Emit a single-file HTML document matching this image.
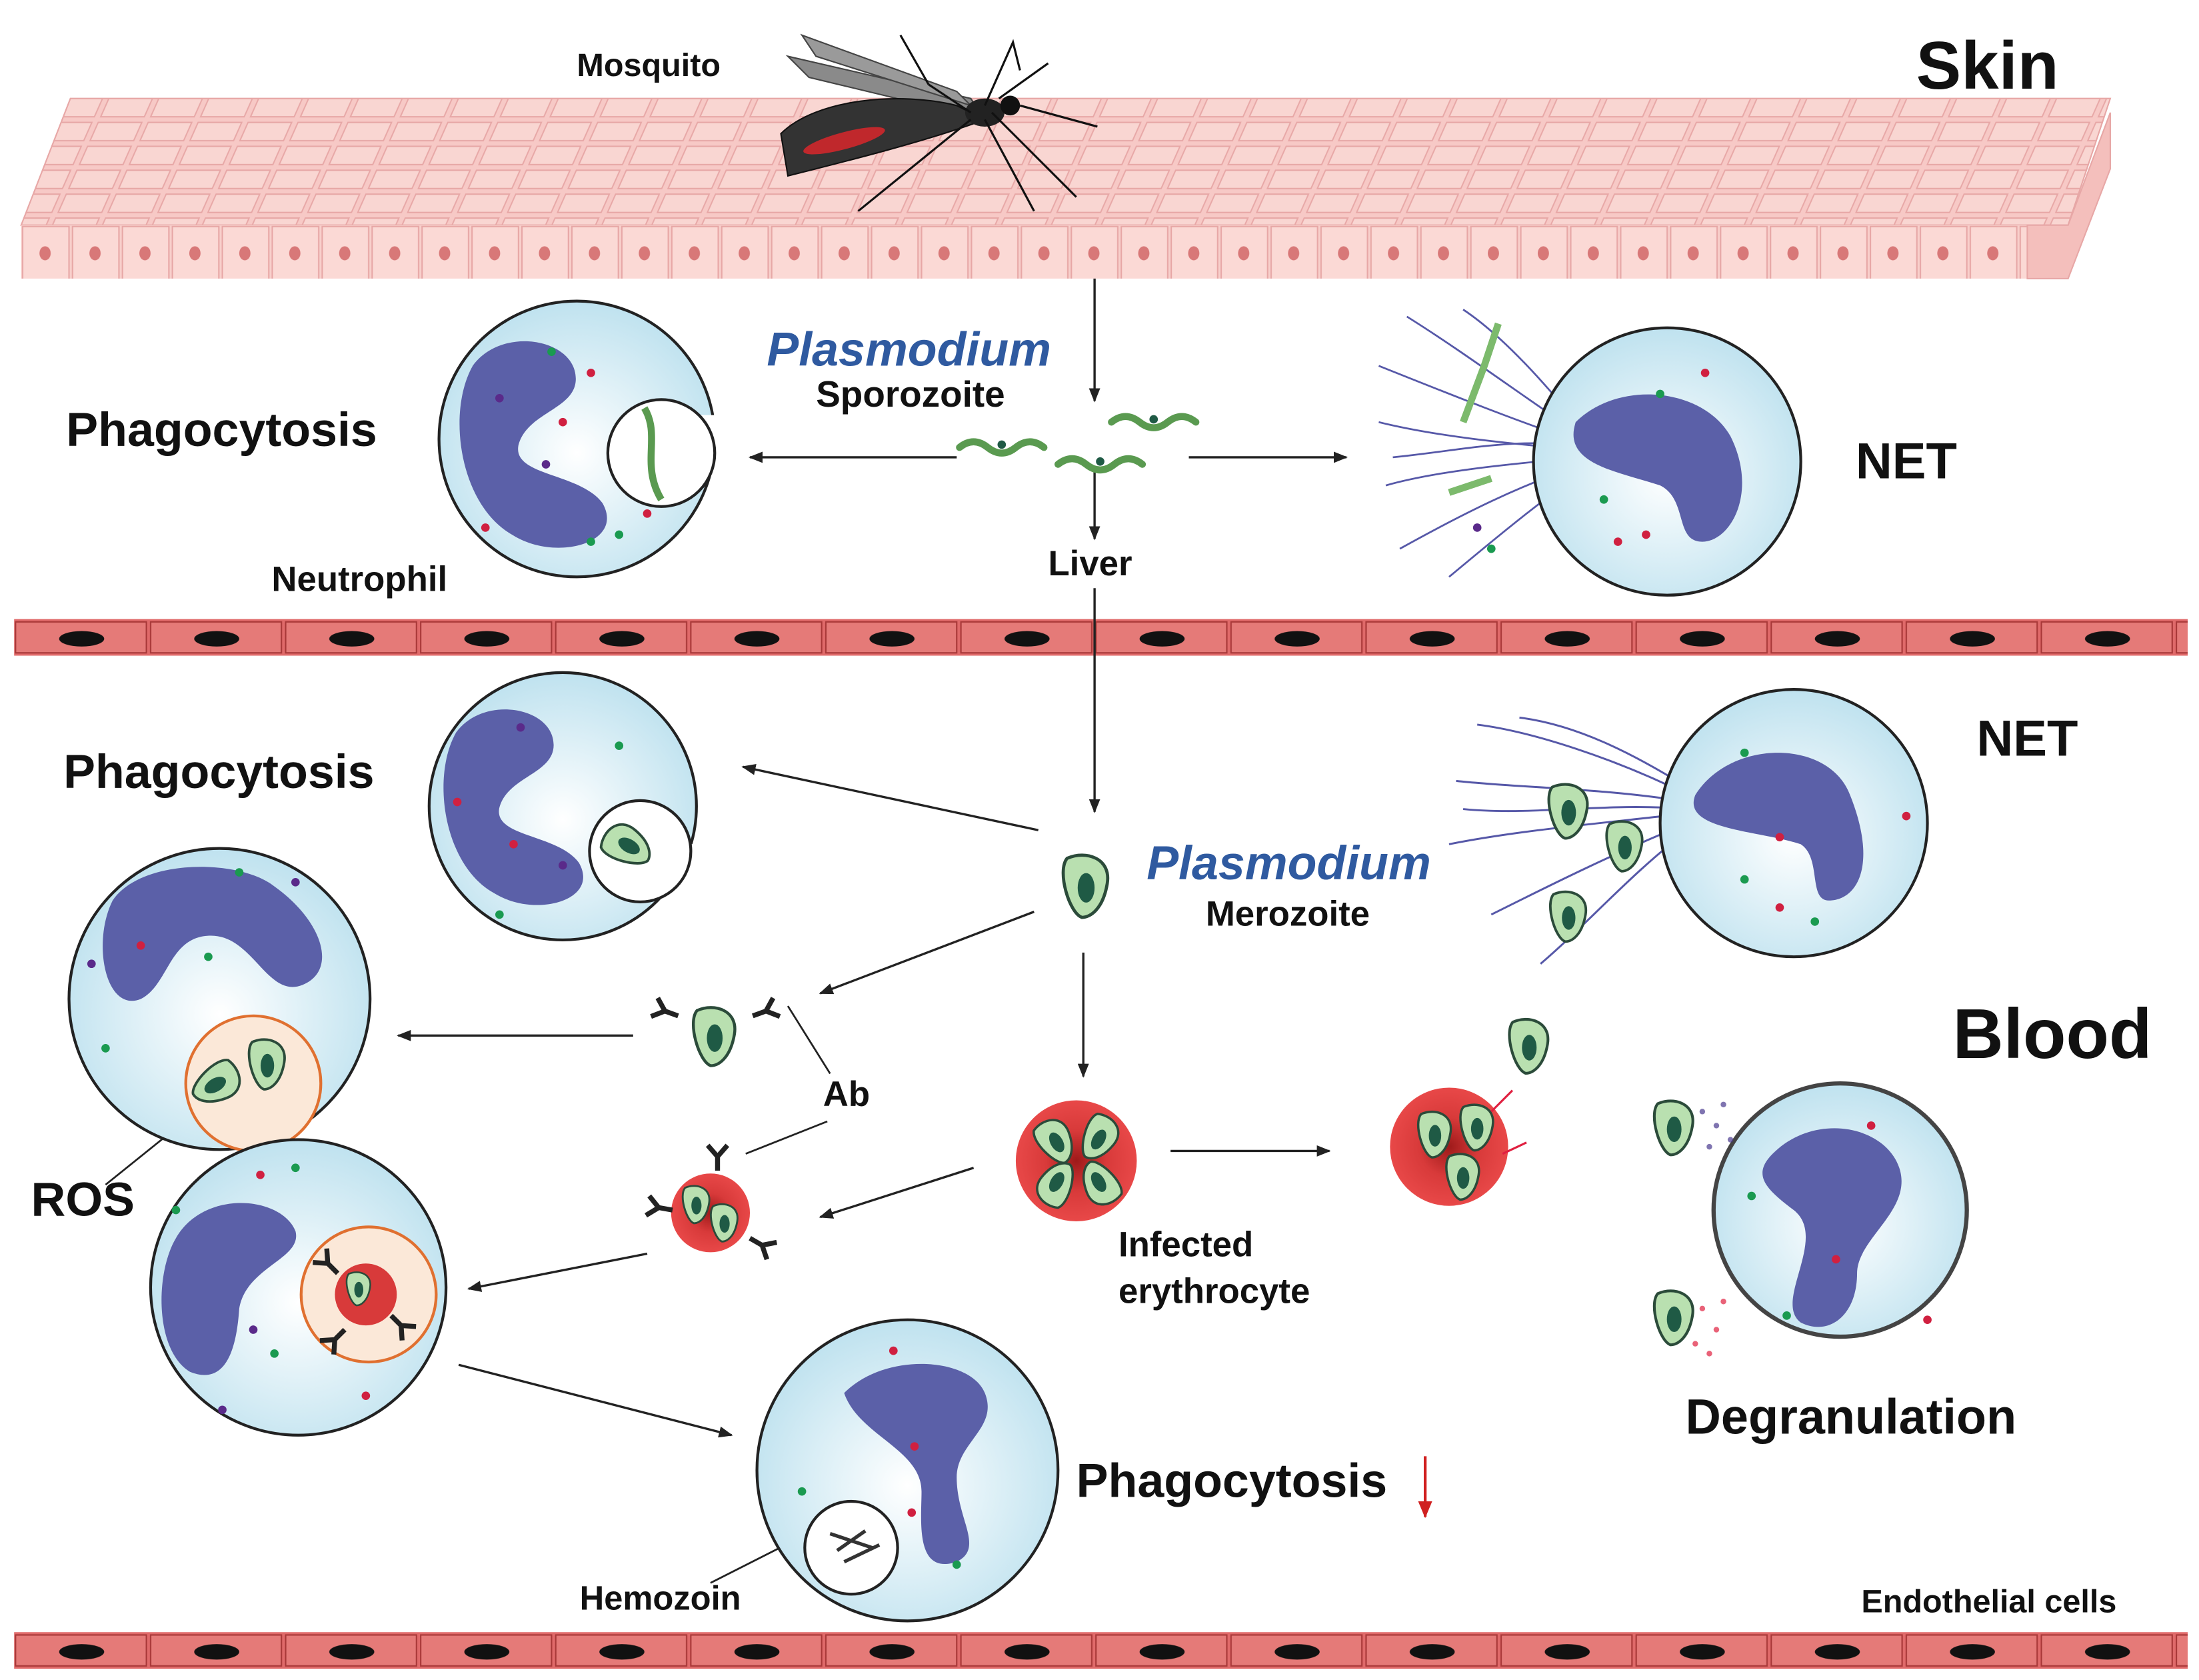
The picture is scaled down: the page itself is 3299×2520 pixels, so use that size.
<!DOCTYPE html>
<html><head><meta charset="utf-8"><style>
html,body{margin:0;padding:0;background:#fff}
svg{display:block}
text{font-family:"Liberation Sans",sans-serif;font-weight:bold;fill:#111}
</style></head><body>
<svg width="3299" height="2520" viewBox="0 0 1563 1194" xmlns="http://www.w3.org/2000/svg">
<defs>
<radialGradient id="cg" cx="0.5" cy="0.55" r="0.55"><stop offset="0" stop-color="#ffffff"/><stop offset="1" stop-color="#bfe2ef"/></radialGradient>
<radialGradient id="rg" cx="0.5" cy="0.5" r="0.5"><stop offset="0" stop-color="#9e1a1a"/><stop offset="0.5" stop-color="#d83a3a"/><stop offset="1" stop-color="#e84848"/></radialGradient>
<marker id="ar" markerWidth="10" markerHeight="8" refX="9" refY="4" orient="auto" markerUnits="userSpaceOnUse"><path d="M0,0 L10,4 L0,8 Z" fill="#222"/></marker>
<marker id="arr" markerWidth="12" markerHeight="10" refX="11" refY="5" orient="auto" markerUnits="userSpaceOnUse"><path d="M0,0 L12,5 L0,10 Z" fill="#d02020"/></marker>
<pattern id="skin" width="35.5" height="17" patternUnits="userSpaceOnUse" patternTransform="skewX(-24)"><rect width="35.5" height="17" fill="#f7c9c6"/><rect x="2" y="2" width="31" height="13" fill="#f9d6d2" stroke="#e7a7a6" stroke-width="1"/></pattern>
<pattern id="skinf" x="15" y="160" width="35.5" height="40" patternUnits="userSpaceOnUse"><rect width="35.5" height="40" fill="#f8cfcb"/><rect x="1" y="1" width="33" height="38" fill="#fbd9d5" stroke="#e7a7a6"/><ellipse cx="17" cy="20" rx="4" ry="5" fill="#d87878"/></pattern>
<pattern id="endo" x="10" y="440" width="96" height="26" patternUnits="userSpaceOnUse"><rect width="96" height="26" fill="#e06a6a"/><rect x="1" y="2" width="93" height="22" fill="#e57a78" stroke="#a83838" stroke-width="1"/><ellipse cx="48" cy="14" rx="16" ry="5.5" fill="#111"/></pattern>
<pattern id="endo2" x="10" y="1160" width="96" height="26" patternUnits="userSpaceOnUse"><rect width="96" height="26" fill="#e06a6a"/><rect x="1" y="2" width="93" height="22" fill="#e57a78" stroke="#a83838" stroke-width="1"/><ellipse cx="48" cy="14" rx="16" ry="5.5" fill="#111"/></pattern>
<g id="nuc"><path d="M-62,-55 C-40,-85 15,-75 15,-45 C15,-22 -22,-20 -28,5 C-32,28 18,25 35,48 C52,78 0,92 -32,72 C-72,50 -82,-20 -62,-55 Z" fill="#5b60a8"/></g>
<g id="par"><path d="M-9,-12 C0,-16 12,-12 10,0 C8,12 2,16 -2,16 C-8,14 -14,-6 -9,-12 Z" fill="#b9e0b0" stroke="#2b4b3a" stroke-width="1.5"/><ellipse cx="0" cy="2" rx="4" ry="7" fill="#1f5a45"/></g>
<g id="ab" stroke="#222" stroke-width="3.5" fill="none"><path d="M0,0 L0,-10 M0,-10 L-7,-18 M0,-10 L7,-18"/></g>
</defs>

<!-- SKIN -->
<polygon points="50,70 1500,70 1470,160 15,160" fill="url(#skin)" stroke="#e7a7a6"/>
<rect x="15" y="160" width="1426" height="38" fill="url(#skinf)"/>
<polygon points="1441,160 1470,160 1500,80 1500,120 1470,198 1441,198" fill="#f4bfbc" stroke="#e7a7a6"/>
<!-- mosquito -->
<g>
<path d="M560,40 L690,70 L700,85 L575,55 Z" fill="#8a8a8a" stroke="#444"/>
<path d="M570,25 L680,65 L690,75 L580,40 Z" fill="#9a9a9a" stroke="#444"/>
<path d="M555,95 C580,70 640,65 680,75 L700,85 C660,100 600,115 560,125 Z" fill="#333" stroke="#111"/>
<ellipse cx="600" cy="100" rx="30" ry="6" fill="#c0282c" transform="rotate(-15 600 100)"/>
<ellipse cx="700" cy="80" rx="14" ry="10" fill="#222"/>
<circle cx="718" cy="75" r="7" fill="#111"/>
<g stroke="#111" stroke-width="1.5" fill="none">
<path d="M725,75 L780,90"/><path d="M690,85 L610,150"/><path d="M700,85 L735,150"/><path d="M705,80 L765,140"/><path d="M700,75 L720,30 L725,50"/><path d="M710,70 L745,45"/><path d="M690,80 L660,60"/><path d="M640,25 L660,60"/>
</g>
</g>
<text x="410" y="54" font-size="23">Mosquito</text>
<text x="1362" y="63" font-size="48">Skin</text>

<!-- Endothelium -->
<rect x="10" y="440" width="1545" height="26" fill="url(#endo)"/>
<rect x="10" y="1160" width="1545" height="26" fill="url(#endo2)"/>

<!-- arrows -->
<g stroke="#222" stroke-width="1.6" fill="none" marker-end="url(#ar)">
<line x1="778" y1="198" x2="778" y2="285"/>
<line x1="680" y1="325" x2="533" y2="325"/>
<line x1="845" y1="325" x2="957" y2="325"/>
<line x1="778" y1="333" x2="778" y2="383"/>
<line x1="778" y1="418" x2="778" y2="577"/>
<line x1="738" y1="590" x2="528" y2="545"/>
<line x1="735" y1="648" x2="583" y2="706"/>
<line x1="450" y1="736" x2="283" y2="736"/>
<line x1="770" y1="677" x2="770" y2="765"/>
<line x1="692" y1="830" x2="583" y2="865"/>
<line x1="460" y1="891" x2="333" y2="916"/>
<line x1="832" y1="818" x2="945" y2="818"/>
<line x1="326" y1="970" x2="520" y2="1020"/>
</g>
<line x1="1013" y1="1035" x2="1013" y2="1078" stroke="#d02020" stroke-width="2" marker-end="url(#arr)"/>
<g stroke="#222" stroke-width="1.3"><line x1="560" y1="715" x2="590" y2="763"/><line x1="530" y1="820" x2="588" y2="797"/><line x1="75" y1="842" x2="162" y2="772"/><line x1="505" y1="1125" x2="578" y2="1088"/></g>

<!-- sporozoites -->
<g stroke="#5a9a50" stroke-width="5" fill="none" stroke-linecap="round">
<path d="M682,318 q10,-8 20,0 t20,0 t20,0"/><path d="M752,330 q10,-8 20,0 t20,0 t20,0"/><path d="M790,300 q10,-8 20,0 t20,0 t20,0"/>
</g>
<g fill="#1f5a45"><circle cx="712" cy="316" r="3"/><circle cx="782" cy="328" r="3"/><circle cx="820" cy="298" r="3"/></g>

<!-- Neutrophil 1 phagocytosis top -->
<circle cx="410" cy="312" r="98" fill="url(#cg)" stroke="#222" stroke-width="2"/>
<rect x="480" y="295" width="40" height="32" fill="#fff"/>
<circle cx="470" cy="322" r="38" fill="#fff" stroke="#222" stroke-width="2"/>
<use href="#nuc" transform="translate(395,312) scale(0.95)"/>
<path d="M458,290 C470,310 455,330 470,355" stroke="#5a9a50" stroke-width="5" fill="none"/>
<g><circle cx="392" cy="250" r="3" fill="#1a9a50"/><circle cx="420" cy="265" r="3" fill="#d02040"/><circle cx="355" cy="283" r="3" fill="#5a2a8a"/><circle cx="400" cy="300" r="3" fill="#d02040"/><circle cx="460" cy="365" r="3" fill="#d02040"/><circle cx="420" cy="385" r="3" fill="#1a9a50"/><circle cx="345" cy="375" r="3" fill="#d02040"/><circle cx="388" cy="330" r="3" fill="#5a2a8a"/><circle cx="440" cy="380" r="3" fill="#1a9a50"/></g>

<!-- NET top -->
<g stroke="#5658a8" stroke-width="1.3" fill="none">
<path d="M1125,310 C1080,280 1040,250 1000,225"/><path d="M1125,315 C1080,300 1030,280 980,260"/><path d="M1125,320 C1070,315 1020,310 980,300"/><path d="M1125,325 C1070,330 1020,335 985,345"/><path d="M1125,330 C1080,345 1040,365 995,390"/><path d="M1125,335 C1090,360 1060,385 1030,410"/><path d="M1125,305 C1100,275 1070,240 1040,220"/><path d="M1125,318 C1080,310 1040,320 990,325"/>
</g>
<g stroke="#7cba6c" stroke-width="5" fill="none"><path d="M1040,300 l15,-40 l10,-30"/><path d="M1030,350 l30,-10"/></g>
<circle cx="1185" cy="328" r="95" fill="url(#cg)" stroke="#222" stroke-width="2"/>
<path d="M1120,300 C1150,270 1210,275 1230,310 C1250,350 1230,385 1210,385 C1190,385 1200,355 1180,345 C1150,335 1110,330 1120,300 Z" fill="#5b60a8"/>
<g><circle cx="1212" cy="265" r="3" fill="#d02040"/><circle cx="1180" cy="280" r="3" fill="#1a9a50"/><circle cx="1150" cy="385" r="3" fill="#d02040"/><circle cx="1170" cy="380" r="3" fill="#d02040"/><circle cx="1140" cy="355" r="3" fill="#1a9a50"/><circle cx="1050" cy="375" r="3" fill="#5a2a8a"/><circle cx="1060" cy="390" r="3" fill="#1a9a50"/></g>

<text x="545" y="260" font-size="34" font-style="italic" style="fill:#2f5aa0">Plasmodium</text>
<text x="580" y="289" font-size="26">Sporozoite</text>
<text x="47" y="317" font-size="34">Phagocytosis</text>
<text x="193" y="420" font-size="25">Neutrophil</text>
<text x="745" y="409" font-size="25">Liver</text>
<text x="1319" y="340" font-size="36">NET</text>

<!-- Neutrophil phago middle -->
<circle cx="400" cy="573" r="95" fill="url(#cg)" stroke="#222" stroke-width="2"/>
<rect x="472" y="600" width="34" height="35" fill="#fff"/>
<circle cx="455" cy="605" r="36" fill="#fff" stroke="#222" stroke-width="2"/>
<use href="#nuc" transform="translate(380,570) scale(0.9)"/>
<use href="#par" transform="translate(445,600) rotate(-60) scale(1.2)"/>
<g><circle cx="370" cy="517" r="3" fill="#5a2a8a"/><circle cx="325" cy="570" r="3" fill="#d02040"/><circle cx="365" cy="600" r="3" fill="#d02040"/><circle cx="400" cy="615" r="3" fill="#5a2a8a"/><circle cx="355" cy="650" r="3" fill="#1a9a50"/><circle cx="440" cy="530" r="3" fill="#1a9a50"/></g>
<text x="45" y="560" font-size="34">Phagocytosis</text>

<!-- NET middle -->
<g stroke="#5658a8" stroke-width="1.4" fill="none">
<path d="M1200,565 C1150,540 1090,520 1050,515"/><path d="M1200,570 C1140,560 1080,560 1035,555"/><path d="M1200,578 C1140,585 1080,590 1030,600"/><path d="M1200,585 C1150,605 1100,630 1060,650"/><path d="M1200,590 C1160,620 1130,655 1095,685"/><path d="M1200,575 C1140,570 1090,580 1040,575"/><path d="M1200,560 C1160,535 1120,515 1080,510"/>
</g>
<use href="#par" transform="translate(1115,575) scale(1.3)"/><use href="#par" transform="translate(1155,600) scale(1.2)"/><use href="#par" transform="translate(1115,650) scale(1.2)"/>
<circle cx="1275" cy="585" r="95" fill="url(#cg)" stroke="#222" stroke-width="2"/>
<path d="M1205,565 C1230,525 1300,525 1315,565 C1335,615 1320,640 1300,640 C1285,640 1295,610 1280,600 C1250,590 1195,590 1205,565 Z" fill="#5b60a8"/>
<g><circle cx="1240" cy="535" r="3" fill="#1a9a50"/><circle cx="1355" cy="580" r="3" fill="#d02040"/><circle cx="1265" cy="595" r="3" fill="#d02040"/><circle cx="1240" cy="625" r="3" fill="#1a9a50"/><circle cx="1265" cy="645" r="3" fill="#d02040"/><circle cx="1290" cy="655" r="3" fill="#1a9a50"/></g>
<text x="1405" y="537" font-size="36">NET</text>

<!-- merozoite -->
<use href="#par" transform="translate(772,628) scale(1.5)"/>
<text x="815" y="625" font-size="34" font-style="italic" style="fill:#2f5aa0">Plasmodium</text>
<text x="857" y="658" font-size="25">Merozoite</text>

<!-- ROS cell -->
<circle cx="156" cy="710" r="107" fill="url(#cg)" stroke="#222" stroke-width="2"/>
<path d="M80,640 C100,610 170,610 195,630 C230,655 240,690 215,700 C190,710 180,665 150,665 C120,665 120,700 100,710 C75,720 65,670 80,640 Z" fill="#5b60a8"/>
<circle cx="180" cy="770" r="48" fill="#fbe8d8" stroke="#e07030" stroke-width="2"/>
<use href="#par" transform="translate(190,755) scale(1.2)"/><use href="#par" transform="translate(155,770) rotate(60) scale(1.2)"/>
<g><circle cx="100" cy="672" r="3" fill="#d02040"/><circle cx="148" cy="680" r="3" fill="#1a9a50"/><circle cx="65" cy="685" r="3" fill="#5a2a8a"/><circle cx="75" cy="745" r="3" fill="#1a9a50"/><circle cx="210" cy="627" r="3" fill="#5a2a8a"/><circle cx="170" cy="620" r="3" fill="#1a9a50"/></g>
<text x="22" y="864" font-size="34">ROS</text>

<!-- Ab merozoite -->
<use href="#par" transform="translate(508,735) scale(1.4)"/>
<use href="#ab" transform="translate(482,722) rotate(-70)"/><use href="#ab" transform="translate(535,722) rotate(70)"/>
<text x="585" y="786" font-size="25">Ab</text>

<!-- opsonized RBC -->
<circle cx="505" cy="862" r="28" fill="url(#rg)"/>
<use href="#par" transform="translate(495,855) scale(0.9)"/><use href="#par" transform="translate(515,868) scale(0.9)"/>
<use href="#ab" transform="translate(510,832) rotate(0)"/><use href="#ab" transform="translate(478,860) rotate(-80)"/><use href="#ab" transform="translate(533,880) rotate(120)"/>

<!-- cell 2 -->
<circle cx="212" cy="915" r="105" fill="url(#cg)" stroke="#222" stroke-width="2"/>
<path d="M125,880 C145,845 200,850 210,875 C215,895 175,900 170,930 C168,960 160,985 135,975 C110,960 110,905 125,880 Z" fill="#5b60a8"/>
<circle cx="262" cy="920" r="48" fill="#fbe8d8" stroke="#e07030" stroke-width="2"/>
<circle cx="260" cy="920" r="22" fill="#d83a3a"/>
<use href="#par" transform="translate(255,915) scale(0.8)"/><use href="#ab" transform="translate(240,905) rotate(-45)"/><use href="#ab" transform="translate(278,935) rotate(135)"/><use href="#ab" transform="translate(245,945) rotate(-135)"/>
<g><circle cx="185" cy="835" r="3" fill="#d02040"/><circle cx="210" cy="830" r="3" fill="#1a9a50"/><circle cx="180" cy="945" r="3" fill="#5a2a8a"/><circle cx="195" cy="962" r="3" fill="#1a9a50"/><circle cx="158" cy="1002" r="3" fill="#5a2a8a"/><circle cx="260" cy="992" r="3" fill="#d02040"/><circle cx="125" cy="860" r="3" fill="#1a9a50"/></g>

<!-- infected erythrocyte -->
<circle cx="765" cy="825" r="43" fill="url(#rg)"/>
<use href="#par" transform="translate(750,810) rotate(-30) scale(1.1)"/><use href="#par" transform="translate(782,808) rotate(30) scale(1.1)"/><use href="#par" transform="translate(750,842) rotate(-150) scale(1.1)"/><use href="#par" transform="translate(782,842) rotate(150) scale(1.1)"/>
<text x="795" y="893" font-size="25">Infected</text>
<text x="795" y="926" font-size="25">erythrocyte</text>

<!-- bursting -->
<circle cx="1030" cy="815" r="42" fill="url(#rg)"/>
<use href="#par" transform="translate(1020,805) scale(1.1)"/><use href="#par" transform="translate(1050,800) scale(1.1)"/><use href="#par" transform="translate(1040,835) scale(1.1)"/>
<use href="#par" transform="translate(1087,742) scale(1.3)"/>
<g stroke="#e02040" stroke-width="1.5"><line x1="1060" y1="790" x2="1075" y2="775"/><line x1="1068" y1="820" x2="1085" y2="812"/></g>

<!-- Degranulation -->
<circle cx="1308" cy="860" r="90" fill="url(#cg)" stroke="#444" stroke-width="3"/>
<path d="M1260,820 C1290,790 1340,800 1350,830 C1360,860 1320,880 1320,905 C1320,935 1300,950 1280,940 C1260,925 1300,880 1275,860 C1255,845 1245,835 1260,820 Z" fill="#5b60a8"/>
<use href="#par" transform="translate(1190,800) scale(1.3)"/><use href="#par" transform="translate(1190,935) scale(1.3)"/>
<g fill="#4a3a90" opacity="0.7"><circle cx="1210" cy="790" r="2"/><circle cx="1220" cy="800" r="2"/><circle cx="1225" cy="785" r="2"/><circle cx="1230" cy="810" r="2"/><circle cx="1215" cy="815" r="2"/></g>
<g fill="#e02040" opacity="0.7"><circle cx="1210" cy="930" r="2"/><circle cx="1220" cy="945" r="2"/><circle cx="1225" cy="925" r="2"/><circle cx="1205" cy="955" r="2"/><circle cx="1215" cy="962" r="2"/></g>
<g><circle cx="1330" cy="800" r="3" fill="#d02040"/><circle cx="1245" cy="850" r="3" fill="#1a9a50"/><circle cx="1305" cy="895" r="3" fill="#d02040"/><circle cx="1270" cy="935" r="3" fill="#1a9a50"/><circle cx="1370" cy="938" r="3" fill="#d02040"/></g>
<text x="1198" y="1019" font-size="35">Degranulation</text>

<!-- hemozoin cell -->
<circle cx="645" cy="1045" r="107" fill="url(#cg)" stroke="#222" stroke-width="2"/>
<path d="M600,990 C630,960 690,965 700,990 C710,1015 680,1025 680,1050 C680,1080 700,1100 680,1110 C650,1120 655,1080 655,1060 C655,1030 610,1020 600,990 Z" fill="#5b60a8"/>
<circle cx="605" cy="1100" r="33" fill="#fff" stroke="#222" stroke-width="2"/>
<g stroke="#333" stroke-width="2.5"><line x1="590" y1="1090" x2="620" y2="1100"/><line x1="595" y1="1102" x2="615" y2="1088"/><line x1="600" y1="1110" x2="625" y2="1098"/></g>
<g><circle cx="650" cy="1028" r="3" fill="#d02040"/><circle cx="648" cy="1075" r="3" fill="#d02040"/><circle cx="570" cy="1060" r="3" fill="#1a9a50"/><circle cx="635" cy="960" r="3" fill="#d02040"/><circle cx="680" cy="1112" r="3" fill="#1a9a50"/></g>
<text x="765" y="1064" font-size="34">Phagocytosis</text>
<text x="412" y="1144" font-size="24">Hemozoin</text>
<text x="1388" y="752" font-size="50">Blood</text>
<text x="1323" y="1146" font-size="23">Endothelial cells</text>
</svg>
</body></html>
